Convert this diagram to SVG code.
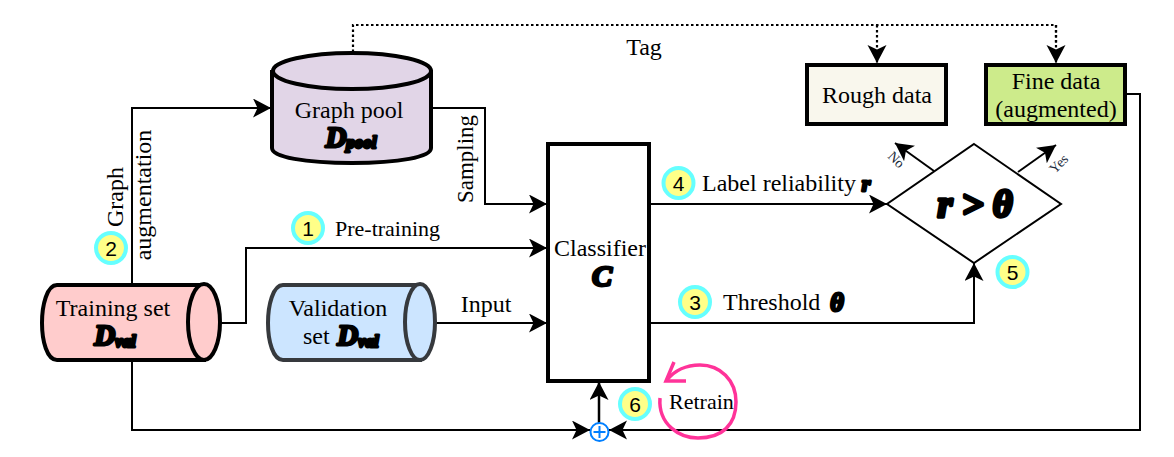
<svg xmlns="http://www.w3.org/2000/svg" width="1174" height="457" viewBox="0 0 1174 457">
<style>
text{font-family:"Liberation Serif","Times New Roman",serif;fill:#000}
.t{font-size:24px;text-anchor:middle}
.s{font-size:24px}
.m{font-weight:bold;font-style:italic;stroke:#000;stroke-width:2.800;text-anchor:middle;stroke-linejoin:round}
.sub{font-size:17px}
.big{font-size:29px}
.c{fill:none;stroke:#000;stroke-width:2}
.d{fill:none;stroke:#000;stroke-width:2.200;stroke-dasharray:2.500 2.500}
.a{marker-end:url(#ah)}
.n{font-family:"Liberation Sans",Arial,sans-serif;font-size:21px;text-anchor:middle}
.b ellipse{fill:#ffff88;stroke:#66ffff;stroke-width:4}
.o{font-size:14px;fill:#1a2a3a;text-anchor:middle}
</style>
<defs>
<marker id="ah" markerUnits="userSpaceOnUse" markerWidth="20" markerHeight="20" refX="18" refY="9.500" orient="auto">
<path d="M0 0L18 9.500L0 19L4.500 9.500Z" fill="#000"/>
</marker>
</defs>
<g id="connectors">
<path class="c a" d="M132 284V108H271"/>
<path class="c a" d="M432 108H485V204H547"/>
<path class="c a" d="M221 323H246V248H547"/>
<path class="c a" d="M436 323H547"/>
<path class="c a" d="M650 204H887"/>
<path class="c a" d="M650 323H974V263"/>
<path class="c a" d="M934 171L895 143"/>
<path class="c a" d="M1018 172L1056 145"/>
<path class="d" d="M353 52V25H1056V45"/>
<path class="d a" d="M877 25V63"/>
<path class="d a" d="M1056 25V63"/>
<path class="c a" d="M132 361V430H590"/>
<path class="c a" d="M1126 94H1140V430H609"/>
<path class="c a" d="M599 423V382" style="stroke-width:2.500"/>
</g>
<g id="pool">
<path d="M272 70V148C272 157 305 163 352 163S431 157 431 148V70" fill="#e1d5e7" stroke="#000" stroke-width="4"/>
<ellipse cx="352" cy="71" rx="79" ry="18" fill="#e1d5e7" stroke="#000" stroke-width="4"/>
<text class="t" x="349" y="118">Graph pool</text>
<text class="m" x="351" y="147"><tspan class="big">D</tspan><tspan class="sub" dy="1">pool</tspan></text>
</g>
<g id="training">
<path d="M204 285H57C47 285 42 305 42 323S47 360 57 360H204Z" fill="#ffcccc" stroke="#000" stroke-width="4"/>
<ellipse cx="204" cy="322" rx="16" ry="38" fill="#ffcccc" stroke="#000" stroke-width="4"/>
<text class="t" x="113" y="316">Training set</text>
<text class="m" x="115" y="345"><tspan class="big">D</tspan><tspan class="sub" dy="2">val</tspan></text>
</g>
<g id="validation">
<path d="M420 285H283C273 285 268 305 268 323S273 360 283 360H420Z" fill="#cce5ff" stroke="#36393d" stroke-width="4"/>
<ellipse cx="420" cy="322" rx="15" ry="38" fill="#cce5ff" stroke="#36393d" stroke-width="4"/>
<text class="t" x="338" y="316">Validation</text>
<text class="s" x="303" y="344">set</text>
<text class="m" x="358" y="345"><tspan class="big">D</tspan><tspan class="sub" dy="2">val</tspan></text>
</g>
<g id="classifier">
<rect x="548" y="144" width="101" height="237" fill="#fff" stroke="#000" stroke-width="4"/>
<text class="t" x="600" y="256">Classifier</text>
<text class="m" x="602" y="286" style="font-size:30px">C</text>
</g>
<g id="rough">
<rect x="807" y="65" width="139" height="59" fill="#f9f7ed" stroke="#000" stroke-width="4"/>
<text class="t" x="877" y="103">Rough data</text>
</g>
<g id="fine">
<rect x="986" y="65" width="139" height="59" fill="#cdeb8b" stroke="#000" stroke-width="4"/>
<text class="t" x="1056" y="89">Fine data</text>
<text class="t" x="1056" y="117">(augmented)</text>
</g>
<g id="decision">
<path d="M974 144L1061 204L974 263L887 204Z" fill="#fff" stroke="#000" stroke-width="2"/>
<text class="m" x="975" y="217" style="font-size:38px;stroke-width:3.500">r &gt; θ</text>
</g>
<g id="plus">
<circle cx="599.500" cy="432" r="9" fill="#fff" stroke="#007fff" stroke-width="2"/>
<path d="M593.500 432H605.500M599.500 426V438" stroke="#007fff" stroke-width="2" fill="none"/>
</g>
<g id="retrain">
<path d="M660 398C658 425 680 438 698 438C722 438 736 425 736 402C736 380 720 365 700 365C686 365 674 371 667 380" fill="none" stroke="#ff3399" stroke-width="3.500"/>
<path d="M674 362L666 381H686" fill="none" stroke="#ff3399" stroke-width="3.500"/>
<text x="669" y="409" style="font-size:22px">Retrain</text>
</g>
<g id="labels">
<text class="t" x="644" y="55">Tag</text>
<text class="t" transform="translate(123 197) rotate(-90)">Graph</text>
<text class="t" transform="translate(151 195) rotate(-90)">augmentation</text>
<text class="t" transform="translate(473 159) rotate(-90)" style="font-size:23px">Sampling</text>
<text x="335" y="236" style="font-size:22px">Pre-training</text>
<text class="t" x="486" y="312">Input</text>
<text class="s" x="702" y="191">Label reliability</text>
<text class="m" x="866" y="191" style="font-size:22px">r</text>
<text class="s" x="723" y="310">Threshold</text>
<text class="m" x="837" y="311" style="font-size:26px">θ</text>
<text class="o" transform="translate(893 163) rotate(45)">No</text>
<text class="o" transform="translate(1062 167) rotate(-45)">Yes</text>
</g>
<g class="b">
<g id="b1"><ellipse cx="308" cy="228" rx="15" ry="15"/><text class="n" x="308" y="236">1</text></g>
<g id="b2"><ellipse cx="111" cy="248" rx="15" ry="15"/><text class="n" x="111" y="256">2</text></g>
<g id="b3"><ellipse cx="695" cy="302" rx="15" ry="15"/><text class="n" x="695" y="310">3</text></g>
<g id="b4"><ellipse cx="678.500" cy="183" rx="15" ry="15"/><text class="n" x="678.500" y="191">4</text></g>
<g id="b5"><ellipse cx="1012.500" cy="272" rx="15" ry="15"/><text class="n" x="1012.500" y="280">5</text></g>
<g id="b6"><ellipse cx="635" cy="404" rx="15" ry="15"/><text class="n" x="635" y="412">6</text></g>
</g>
</svg>
